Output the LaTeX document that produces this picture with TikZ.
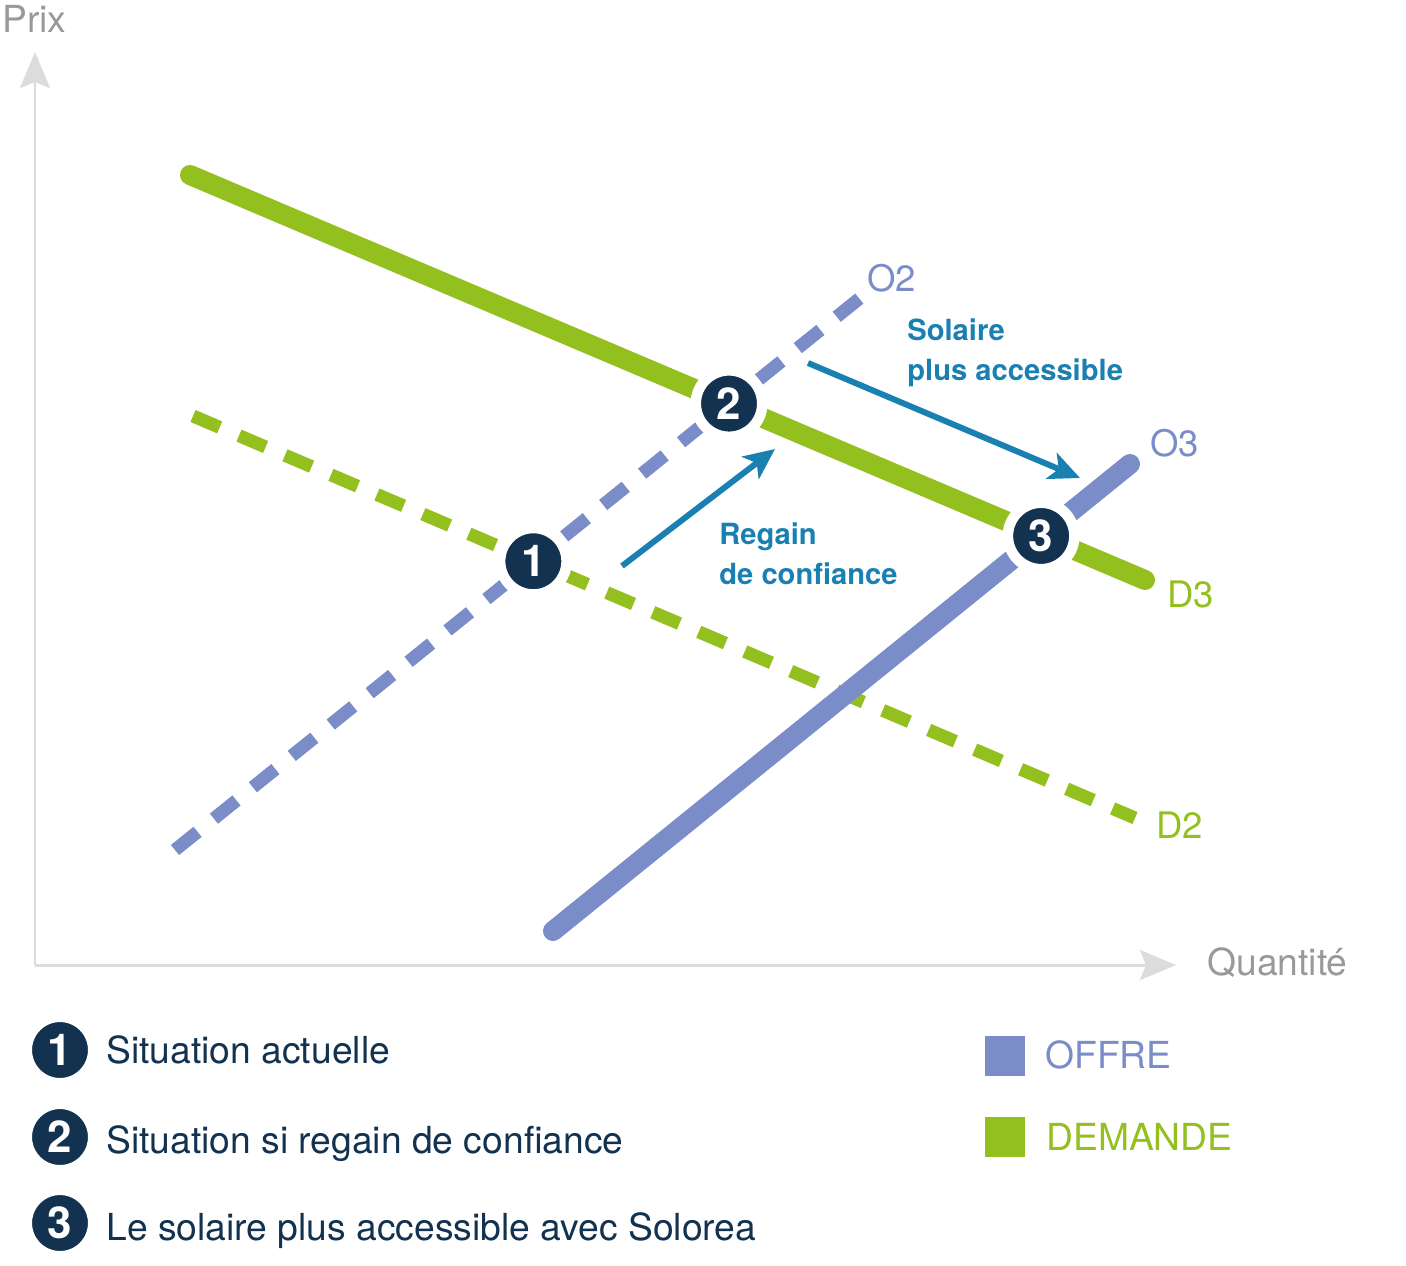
\documentclass[tikz,border=0pt]{standalone}
\usepackage{fontspec}
\setmainfont{TeX Gyre Heros}
\usetikzlibrary{arrows.meta}
\definecolor{OffreBlue}{HTML}{7B8DC8}
\definecolor{DemandeGreen}{HTML}{93C01F}
\definecolor{PointNavy}{HTML}{12324F}
\definecolor{ShiftBlue}{HTML}{1A80B2}
\definecolor{AxisGray}{HTML}{DCDCDC}
\definecolor{TextGray}{HTML}{999999}

\tikzset{
  axis/.style={AxisGray,line width=1.7pt,-{Stealth[length=0.72cm,width=0.6cm,inset=0.12cm]}},
  curve/.style={line width=0.4cm,line cap=round},
  dashcurve/.style={line width=0.26cm,dash pattern=on 0.58cm off 0.42cm},
  shiftarrow/.style={ShiftBlue,line width=3.4pt,-{Stealth[length=0.62cm,width=0.56cm,inset=0.16cm]}},
  eqpoint/.style={circle,fill=PointNavy,draw=white,line width=6pt,minimum size=1.33cm,inner sep=0pt,
    text=white,font=\fontsize{25}{25}\bfseries\selectfont},
  curvelabel/.style={anchor=base west,inner sep=0pt,font=\fontsize{20.8}{24}\selectfont},
  shiftlabel/.style={anchor=north west,inner sep=0pt,align=left,text=ShiftBlue,
    font=\fontsize{16.6}{23.2}\bfseries\selectfont},
  legendtext/.style={anchor=base west,inner sep=0pt,font=\fontsize{21.2}{24}\selectfont}
}

\begin{document}
\begin{tikzpicture}[x=0.02cm,y=-0.02cm]
\useasboundingbox (0,0) rectangle (1406,1265);

            \coordinate (orig) at (35,965);
            \coordinate (ytip) at (35,52);
            \coordinate (xtip) at (1176,965);
            \draw[axis] (orig) -- (ytip);
            \draw[axis] (orig) -- (xtip);
            \node[legendtext,text=TextGray] (prix) at (2,32) {Prix};
            \node[legendtext,text=TextGray] (quantite) at (1207,975) {Quantité};

            \coordinate (d3s) at (190,175);
            \coordinate (d3e) at (1145,580);
            \coordinate (d2s) at (193,416);
            \coordinate (d2e) at (1135,818);
            \coordinate (o2s) at (175,850);
            \coordinate (o2e) at (860,298);
            \coordinate (o3s) at (553,931);
            \coordinate (o3e) at (1130,464);

            \draw[curve,DemandeGreen] (d3s) -- (d3e);
            \draw[dashcurve,DemandeGreen] (d2s) -- (d2e);
            \draw[dashcurve,OffreBlue] (o2s) -- (o2e);
            \draw[curve,OffreBlue] (o3s) -- (o3e);

            \node[curvelabel,text=OffreBlue] (lo2) at (867,291) {O2};
            \node[curvelabel,text=OffreBlue] (lo3) at (1150,456) {O3};
            \node[curvelabel,text=DemandeGreen] (ld3) at (1167,607) {D3};
            \node[curvelabel,text=DemandeGreen] (ld2) at (1156,838) {D2};

            \node[eqpoint] (p1) at (intersection of d2s--d2e and o2s--o2e) {1};
            \node[eqpoint] (p2) at (intersection of d3s--d3e and o2s--o2e) {2};
            \node[eqpoint] (p3) at (intersection of d3s--d3e and o3s--o3e) {3};

            \coordinate (rga) at (622,566);
            \coordinate (rgb) at (775,449);
            \draw[shiftarrow] (rga) -- (rgb);
            \node[shiftlabel] (regain) at (719,522) {Regain\\de confiance};

            \coordinate (soa) at (808,363);
            \coordinate (sob) at (1080,478);
            \draw[shiftarrow] (soa) -- (sob);
            \node[shiftlabel] (solaire) at (907,318) {Solaire\\plus accessible};

            \node[eqpoint] (k1) at (60,1050) {1};
            \node[eqpoint] (k2) at (60,1137) {2};
            \node[eqpoint] (k3) at (60,1223) {3};
            \node[legendtext,text=PointNavy] (t1) at (106,1063) {Situation actuelle};
            \node[legendtext,text=PointNavy] (t2) at (106,1153) {Situation si regain de confiance};
            \node[legendtext,text=PointNavy] (t3) at (106,1240) {Le solaire plus accessible avec Solorea};

            \fill[OffreBlue] (985,1036) rectangle (1025,1076);
            \node[legendtext,text=OffreBlue] (offre) at (1045,1068) {OFFRE};
            \fill[DemandeGreen] (985,1117) rectangle (1025,1157);
            \node[legendtext,text=DemandeGreen] (demande) at (1046,1150) {DEMANDE};
\end{tikzpicture}
\end{document}
